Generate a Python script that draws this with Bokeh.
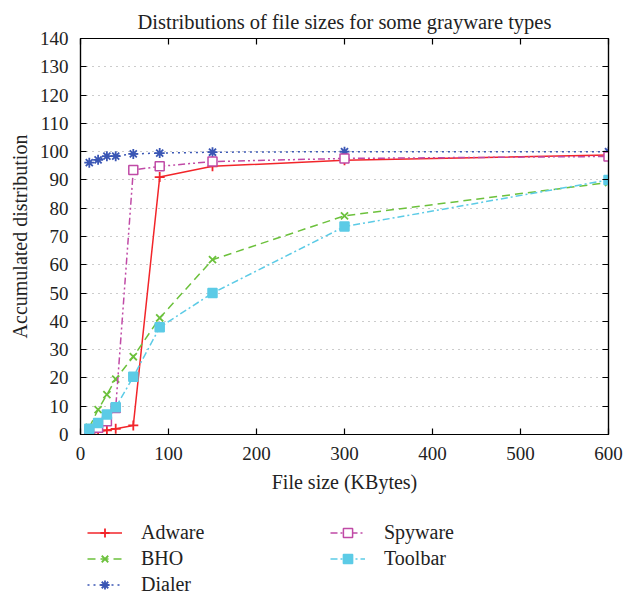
from bokeh.plotting import figure
from bokeh.models import Legend, LegendItem, LinearAxis, Range1d, FixedTicker
from bokeh.layouts import column
from bokeh.embed import file_html
from bokeh.resources import INLINE

sizes = [10, 20, 30, 40, 60, 90, 150, 300, 600]
adware = [0.2, 0.9, 1.5, 2.0, 3.2, 91.0, 94.8, 97.0, 98.8]
bho = [2.5, 8.8, 14.1, 19.6, 27.5, 41.2, 61.8, 77.3, 89.1]
dialer = [96.1, 97.1, 98.4, 98.4, 99.2, 99.5, 99.8, 100.0, 100.0]
spyware = [1.2, 2.4, 4.7, 9.4, 93.5, 94.8, 96.5, 97.6, 98.3]
toolbar = [2.0, 4.1, 7.1, 9.6, 20.4, 37.9, 50.0, 73.5, 90.0]

x_ticks = [0, 100, 200, 300, 400, 500, 600]
y_ticks = list(range(0, 141, 10))

FONT = "Liberation Serif"

p = figure(width=635, height=500, output_backend="svg", toolbar_location=None,
           x_range=Range1d(0, 600), y_range=Range1d(0, 140),
           min_border_left=80, min_border_right=27, min_border_top=38,
           min_border_bottom=66,
           title="Distributions of file sizes for some grayware types")
p.title.text_font = FONT
p.title.text_font_size = "20.5px"
p.title.text_font_style = "normal"
p.title.align = "center"
p.title.text_color = "#222222"
p.title.standoff = 12

p.outline_line_color = "black"
p.outline_line_width = 1.2

for ax in p.xaxis:
    ax.ticker = FixedTicker(ticks=x_ticks)
for ax in p.yaxis:
    ax.ticker = FixedTicker(ticks=y_ticks)

for ax in [p.xaxis[0], p.yaxis[0]]:
    ax.major_tick_in = 6
    ax.major_tick_out = 0
    ax.minor_tick_in = 0
    ax.minor_tick_out = 0
    ax.major_label_text_font = FONT
    ax.major_label_text_font_size = "19px"
    ax.major_label_text_color = "#222222"
    ax.axis_label_text_font = FONT
    ax.axis_label_text_font_size = "20px"
    ax.axis_label_text_font_style = "normal"
    ax.axis_label_text_color = "#222222"
    ax.axis_line_color = "black"
    ax.axis_line_width = 1.2
    ax.major_tick_line_width = 1.2

p.xaxis.axis_label = "File size (KBytes)"
p.yaxis.axis_label = "Accumulated distribution"
p.xaxis.axis_label_standoff = 8
p.yaxis.axis_label_standoff = 6
p.xaxis.major_label_standoff = 12
p.yaxis.major_label_standoff = 12

for loc, ticks in [("right", y_ticks), ("above", x_ticks)]:
    a = LinearAxis(ticker=FixedTicker(ticks=ticks), major_tick_in=6, major_tick_out=0,
                   minor_tick_in=0, minor_tick_out=0, major_label_text_font_size="0px",
                   major_label_standoff=0, axis_line_width=1.2, major_tick_line_width=1.2)
    p.add_layout(a, loc)

p.xgrid.visible = False
p.ygrid.ticker = FixedTicker(ticks=y_ticks)
p.ygrid.grid_line_color = "#999999"
p.ygrid.grid_line_dash = "1 5"
p.ygrid.grid_line_width = 1.2

# Legend panel below the chart
q = figure(width=635, height=95, output_backend="svg", toolbar_location=None,
           x_range=Range1d(-2, -1), y_range=Range1d(-2, -1),
           x_axis_location=None, y_axis_location=None,
           min_border=0, min_border_left=0, min_border_right=0,
           min_border_top=0, min_border_bottom=0)
q.outline_line_color = None
q.grid.visible = False

series = [
    ("Adware", adware, "#f2252a", "solid", "cross", False),
    ("BHO", bho, "#6cc13c", "8 5", "x", False),
    ("Dialer", dialer, "#3a56b4", "2 4", "asterisk", False),
    ("Spyware", spyware, "#c04aa6", "7 3 2 3 2 3", "square", True),
    ("Toolbar", toolbar, "#5ccbe6", "7 3 2 3", "square", False),
]

items = []
for name, vals, color, dash, marker, hollow in series:
    rs = []
    for fig in (p, q):
        r1 = fig.line(sizes, vals, line_color=color, line_width=1.5, line_dash=dash)
        if marker == "square":
            r2 = fig.scatter(sizes, vals, marker="square", size=9, line_color=color,
                             line_width=1.5, fill_color="white" if hollow else color)
        else:
            r2 = fig.scatter(sizes, vals, marker=marker, size=10, line_color=color,
                             line_width=1.8, fill_color=color)
        rs.append((r1, r2))
    items.append(LegendItem(label=name, renderers=list(rs[1])))

legend = Legend(items=items, location=(7, -1), orientation="vertical", nrows=3,
                glyph_width=35, glyph_height=23, label_height=23, label_width=186,
                label_standoff=19, spacing=3, padding=0, margin=0,
                label_text_font=FONT, label_text_font_size="20px",
                label_text_color="#222222",
                border_line_color=None, background_fill_alpha=0)
q.add_layout(legend, "center")

layout = column(p, q, spacing=0)
open("out.html", "w").write(file_html(layout, INLINE))
